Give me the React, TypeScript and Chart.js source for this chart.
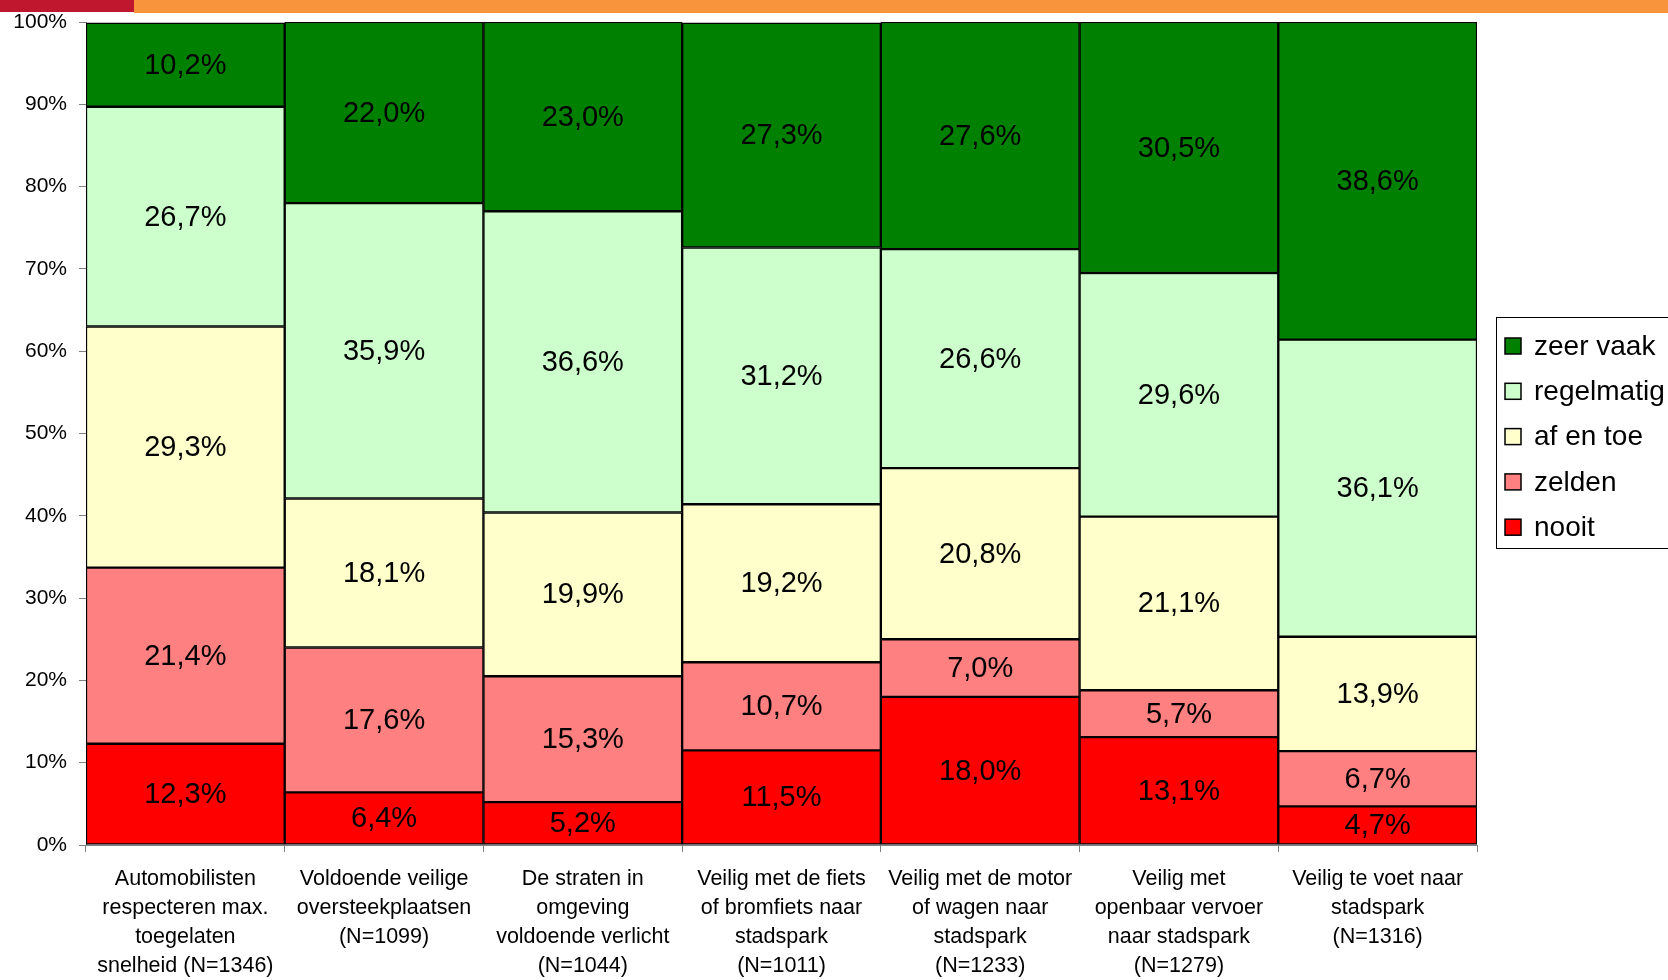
import React, { useEffect, useRef } from "react";
import { Chart, registerables } from "chart.js";

Chart.register(...registerables);

const categories: string[][] = [
  ["Automobilisten", "respecteren max.", "toegelaten", "snelheid (N=1346)"],
  ["Voldoende veilige", "oversteekplaatsen", "(N=1099)"],
  ["De straten in", "omgeving", "voldoende verlicht", "(N=1044)"],
  ["Veilig met de fiets", "of bromfiets naar", "stadspark", "(N=1011)"],
  ["Veilig met de motor", "of wagen naar", "stadspark", "(N=1233)"],
  ["Veilig met", "openbaar vervoer", "naar stadspark", "(N=1279)"],
  ["Veilig te voet naar", "stadspark", "(N=1316)"],
];

const nooit = [12.3, 6.4, 5.2, 11.5, 18.0, 13.1, 4.7];
const zelden = [21.4, 17.6, 15.3, 10.7, 7.0, 5.7, 6.7];
const afEnToe = [29.3, 18.1, 19.9, 19.2, 20.8, 21.1, 13.9];
const regelmatig = [26.7, 35.9, 36.6, 31.2, 26.6, 29.6, 36.1];
const zeerVaak = [10.2, 22.0, 23.0, 27.3, 27.6, 30.5, 38.6];

const seriesNames = ["nooit", "zelden", "af en toe", "regelmatig", "zeer vaak"];
const seriesValues = [nooit, zelden, afEnToe, regelmatig, zeerVaak];
const seriesColors = ["#FF0000", "#FF8080", "#FFFFCC", "#CCFFCC", "#008000"];

const FONT = "'Liberation Sans', Arial, sans-serif";

const fmt = (v: number) => v.toFixed(1).replace(".", ",") + "%";

const labelPlugin = {
  id: "segLabels",
  afterDatasetsDraw(chart: any) {
    const ctx = chart.ctx;
    ctx.save();
    ctx.font = `29px ${FONT}`;
    ctx.fillStyle = "#000";
    ctx.textAlign = "center";
    ctx.textBaseline = "middle";
    chart.data.datasets.forEach((ds: any, di: number) => {
      const meta = chart.getDatasetMeta(di);
      meta.data.forEach((el: any, i: number) => {
        const v = ds.data[i];
        const cy = (el.y + el.base) / 2;
        ctx.fillText(fmt(v), el.x, cy + 1);
      });
    });
    ctx.restore();
  },
};

const legendPlugin = {
  id: "customLegend",
  afterDraw(chart: any) {
    const ctx = chart.ctx;
    ctx.save();
    ctx.strokeStyle = "#000";
    ctx.lineWidth = 1;
    ctx.strokeRect(1496.5, 317.5, 300, 231);
    ctx.font = `28px ${FONT}`;
    ctx.textAlign = "left";
    ctx.textBaseline = "middle";
    const n = seriesNames.length;
    for (let k = 0; k < n; k++) {
      const idx = n - 1 - k;
      const cy = 346 + k * 45.3;
      ctx.fillStyle = seriesColors[idx];
      ctx.fillRect(1505, cy - 8, 16, 16);
      ctx.strokeStyle = "#000";
      ctx.lineWidth = 1.5;
      ctx.strokeRect(1505, cy - 8, 16, 16);
      ctx.fillStyle = "#000";
      ctx.fillText(seriesNames[idx], 1534, cy + 1);
    }
    ctx.restore();
  },
};

export default function App() {
  const ref = useRef<HTMLCanvasElement | null>(null);
  useEffect(() => {
    if (!ref.current) return;
    const chart = new Chart(ref.current, {
      type: "bar",
      data: {
        labels: categories,
        datasets: seriesNames.map((name, i) => ({
          label: name,
          data: seriesValues[i],
          backgroundColor: seriesColors[i],
          borderColor: "#000",
          borderWidth: 1.5,
          borderSkipped: false,
          categoryPercentage: 1,
          barPercentage: 1,
        })),
      },
      options: {
        responsive: false,
        devicePixelRatio: 1,
        animation: false,
        layout: { padding: { top: 22, right: 191, left: 0, bottom: 0 } },
        plugins: {
          legend: { display: false },
          tooltip: { enabled: false },
          title: { display: false },
        },
        scales: {
          x: {
            stacked: true,
            grid: {
              drawOnChartArea: false,
              drawTicks: true,
              tickLength: 7,
              color: "#808080",
              offset: true,
            },
            border: { color: "#808080", width: 1 },
            ticks: {
              color: "#000",
              padding: 13,
              maxRotation: 0,
              autoSkip: false,
              font: { family: FONT, size: 21.5, lineHeight: 29 / 21.5 },
            },
            afterFit: (s: any) => {
              s.height = 135;
              s.paddingLeft = 0;
              s.paddingRight = 0;
            },
          },
          y: {
            stacked: true,
            min: 0,
            max: 100,
            grid: {
              drawOnChartArea: false,
              drawTicks: true,
              tickLength: 7,
              color: "#808080",
            },
            border: { color: "#808080", width: 1 },
            ticks: {
              stepSize: 10,
              color: "#000",
              padding: 12,
              font: { family: FONT, size: 21 },
              callback: (v: any) => v + "%",
            },
            afterFit: (s: any) => {
              s.width = 86;
              s.paddingTop = 0;
              s.paddingBottom = 0;
            },
          },
        },
      },
      plugins: [labelPlugin, legendPlugin],
    });
    return () => chart.destroy();
  }, []);

  return (
    <div style={{ position: "fixed", left: 0, top: 0, width: 1668, height: 980, background: "#fff" }}>
      <canvas ref={ref} width={1668} height={980} style={{ position: "absolute", left: 0, top: 0 }} />
      <div style={{ position: "absolute", left: 0, top: 0, width: 134, height: 12, background: "#C0172E" }} />
      <div style={{ position: "absolute", left: 134, top: 0, width: 1534, height: 13, background: "#F8953C" }} />
    </div>
  );
}
